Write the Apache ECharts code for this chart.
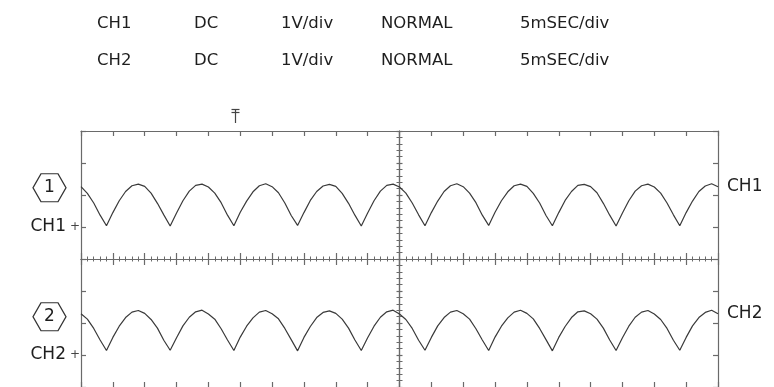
<!DOCTYPE html>
<html>
<head>
<meta charset="utf-8">
<script src="https://cdn.jsdelivr.net/npm/echarts@6/dist/echarts.min.js"></script>
<style>
html, body { margin: 0; padding: 0; background: #fff; }
#scope { width: 774px; height: 387px; }
</style>
</head>
<body>
<div id="scope"></div>
<script>
// one sample per millisecond, 0 .. 100 ms (20 div x 5 ms)
var sampleMs = 1;
// volts above ground (1 V/div)
var ch1 = [
    1.26, 1.05, 0.75, 0.37, 0.04, 0.45, 0.82, 1.11, 1.29, 1.34,
    1.27, 1.06, 0.74, 0.38, 0.03, 0.44, 0.82, 1.12, 1.30, 1.34,
    1.25, 1.06, 0.76, 0.37, 0.04, 0.46, 0.81, 1.10, 1.29, 1.35,
    1.26, 1.07, 0.75, 0.36, 0.05, 0.45, 0.83, 1.11, 1.28, 1.33,
    1.27, 1.05, 0.74, 0.37, 0.03, 0.44, 0.82, 1.12, 1.30, 1.34,
    1.25, 1.06, 0.75, 0.38, 0.04, 0.45, 0.81, 1.11, 1.29, 1.35,
    1.26, 1.06, 0.76, 0.37, 0.05, 0.46, 0.82, 1.10, 1.29, 1.34,
    1.27, 1.05, 0.75, 0.36, 0.04, 0.45, 0.83, 1.11, 1.30, 1.33,
    1.26, 1.07, 0.74, 0.37, 0.03, 0.44, 0.82, 1.12, 1.29, 1.34,
    1.25, 1.06, 0.75, 0.38, 0.04, 0.45, 0.81, 1.11, 1.28, 1.35,
    1.26
];
var ch2 = [
    1.29, 1.12, 0.83, 0.47, 0.14, 0.55, 0.90, 1.17, 1.34, 1.39,
    1.30, 1.11, 0.84, 0.46, 0.15, 0.54, 0.91, 1.18, 1.35, 1.40,
    1.28, 1.12, 0.82, 0.47, 0.14, 0.56, 0.90, 1.16, 1.34, 1.39,
    1.29, 1.13, 0.83, 0.48, 0.13, 0.55, 0.89, 1.17, 1.33, 1.38,
    1.30, 1.12, 0.84, 0.47, 0.14, 0.54, 0.90, 1.18, 1.35, 1.40,
    1.28, 1.11, 0.83, 0.46, 0.15, 0.55, 0.91, 1.17, 1.34, 1.39,
    1.29, 1.12, 0.82, 0.47, 0.14, 0.56, 0.90, 1.16, 1.34, 1.40,
    1.30, 1.13, 0.83, 0.48, 0.13, 0.55, 0.89, 1.17, 1.35, 1.38,
    1.29, 1.12, 0.84, 0.47, 0.14, 0.54, 0.90, 1.18, 1.34, 1.39,
    1.28, 1.11, 0.83, 0.46, 0.15, 0.55, 0.91, 1.17, 1.33, 1.40,
    1.29
];
var headerRows = [
    ['CH1', 'DC', '1V/div', 'NORMAL', '5mSEC/div'],
    ['CH2', 'DC', '1V/div', 'NORMAL', '5mSEC/div']
];
var channelNames = ['CH1', 'CH2'];
var channelMarks = ['1', '2'];

var FONT = '"DejaVu Sans", "Liberation Sans", sans-serif';
var INK = '#1e1e1e';
var GRAT = '#6a6a6a';
var TRACE = '#3a3a3a';

var toPairs = function (arr) {
    return arr.map(function (v, i) { return [i * sampleMs, v]; });
};

var headerX = [97, 194, 281, 381, 520];
var headerY = [24, 61];
var graphics = [];
headerRows.forEach(function (row, r) {
    row.forEach(function (txt, c) {
        graphics.push({
            type: 'text', x: headerX[c], y: headerY[r], silent: true,
            style: { text: txt, font: '16.5px ' + FONT, fill: INK, verticalAlign: 'middle' }
        });
    });
});
// trigger position marker
graphics.push({
    type: 'group', silent: true,
    children: [
        { type: 'line', shape: { x1: 231.5, y1: 109.5, x2: 239.5, y2: 109.5 }, style: { stroke: '#444', lineWidth: 1.2 } },
        { type: 'line', shape: { x1: 231.5, y1: 112.5, x2: 239.5, y2: 112.5 }, style: { stroke: '#444', lineWidth: 1.2 } },
        { type: 'line', shape: { x1: 235.5, y1: 109.5, x2: 235.5, y2: 123 }, style: { stroke: '#444', lineWidth: 1.2 } }
    ]
});

var lineSt = { color: GRAT, width: 1.2 };
var borderX = function (pos) {
    return {
        type: 'value', min: 0, max: 100, interval: 5, position: pos,
        axisLine: { onZero: false, lineStyle: lineSt },
        axisTick: { inside: true, length: 5, lineStyle: lineSt },
        axisLabel: { show: false }, splitLine: { show: false }
    };
};
var centerX = function (inside) {
    return {
        type: 'value', min: -50, max: 50, interval: 5, position: 'bottom',
        axisLine: { onZero: true, onZeroAxisIndex: 3, lineStyle: lineSt },
        axisTick: { inside: inside, length: 6, lineStyle: lineSt },
        minorTick: { show: true, splitNumber: 5, length: 2.5, lineStyle: { color: GRAT, width: 1 } },
        axisLabel: { show: false }, splitLine: { show: false }, minorSplitLine: { show: false }
    };
};
var centerY = function (inside) {
    return {
        type: 'value', min: -4, max: 4, interval: 1, position: 'left',
        axisLine: { onZero: true, onZeroAxisIndex: 2, lineStyle: lineSt },
        axisTick: { inside: inside, length: 3, lineStyle: lineSt },
        minorTick: { show: true, splitNumber: 5, length: 3, lineStyle: { color: GRAT, width: 1 } },
        axisLabel: { show: false }, splitLine: { show: false }, minorSplitLine: { show: false }
    };
};
var groundLabel = function (name) {
    return {
        show: true, margin: 1,
        formatter: function (v) { return v === 0 ? '{c|' + name + '}{g|+}' : ''; },
        rich: {
            c: { fontSize: 17, fontFamily: FONT, color: INK },
            g: { fontSize: 12, fontFamily: FONT, color: '#444', padding: [0, 0, 0, 4] }
        }
    };
};

var hexPath = 'path://M0,14 L8,0 L25,0 L33,14 L25,28 L8,28 Z';
var traceSeries = function (idx, values) {
    return {
        type: 'line', name: channelNames[idx],
        xAxisIndex: 0, yAxisIndex: idx,
        data: toPairs(values),
        symbol: 'none', silent: true,
        lineStyle: { color: TRACE, width: 1.2 },
        itemStyle: { color: TRACE },
        endLabel: {
            show: true, formatter: channelNames[idx], distance: 9,
            fontSize: 17, fontFamily: FONT, color: INK
        },
        markPoint: {
            silent: true,
            symbol: hexPath,
            symbolSize: [33, 28],
            symbolOffset: [-31.5, idx === 0 ? 1 : 3],
            itemStyle: { color: '#fff', borderColor: '#333', borderWidth: 1.2 },
            label: { show: true, position: 'inside', formatter: channelMarks[idx], fontSize: 17, fontFamily: FONT, color: INK },
            data: [{ coord: [0, values[0]] }]
        }
    };
};

var chart = echarts.init(document.getElementById('scope'));
var option = {
    backgroundColor: '#fff',
    animation: false,
    grid: { left: 81, top: 131, right: 56, bottom: 0, containLabel: false, outerBoundsMode: 'none' },
    graphic: graphics,
    xAxis: [borderX('bottom'), borderX('top'), centerX(true), centerX(false)],
    yAxis: [
        {
            type: 'value', min: -5, max: 3, interval: 1, position: 'left',
            axisLine: { onZero: false, lineStyle: lineSt },
            axisTick: { inside: true, length: 5, lineStyle: lineSt },
            axisLabel: groundLabel('CH1'), splitLine: { show: false }
        },
        {
            type: 'value', min: -1, max: 7, interval: 1, position: 'right',
            axisLine: { onZero: false, lineStyle: lineSt },
            axisTick: { inside: true, length: 5, lineStyle: lineSt },
            axisLabel: { show: false }, splitLine: { show: false }
        },
        centerY(true),
        centerY(false),
        {
            type: 'value', min: -1, max: 7, interval: 1, position: 'left',
            axisLine: { show: false, onZero: false },
            axisTick: { show: false },
            axisLabel: groundLabel('CH2'), splitLine: { show: false }
        }
    ],
    series: [traceSeries(0, ch1), traceSeries(1, ch2)]
};
chart.setOption(option);
</script>
</body>
</html>
